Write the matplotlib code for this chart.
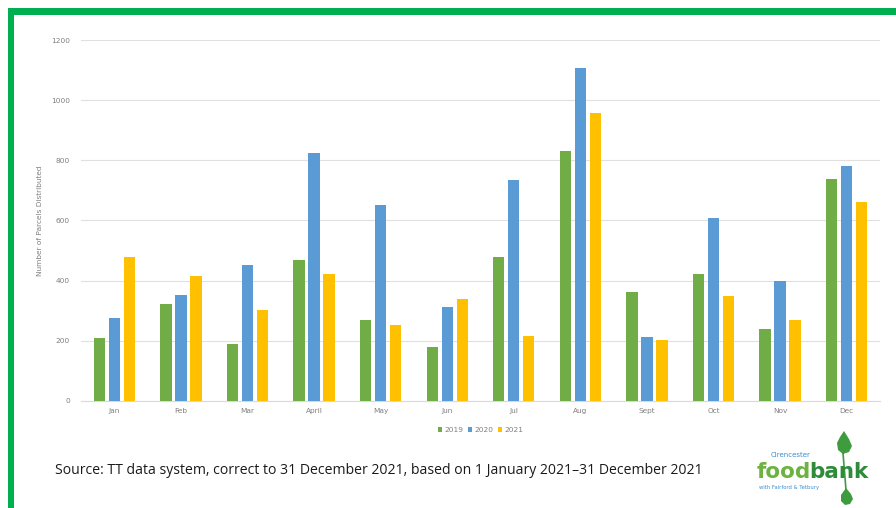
import matplotlib
matplotlib.use("Agg")
import matplotlib.pyplot as plt
import numpy as np
from matplotlib.patches import Rectangle, Polygon

months = ["Jan", "Feb", "Mar", "April", "May", "Jun", "Jul", "Aug", "Sept", "Oct", "Nov", "Dec"]
years = ["2019", "2020", "2021"]
v2019 = [210, 322, 189, 468, 269, 180, 477, 832, 363, 421, 240, 739]
v2020 = [274, 351, 452, 824, 651, 313, 734, 1108, 212, 609, 397, 780]
v2021 = [477, 414, 303, 422, 252, 337, 217, 958, 202, 347, 269, 662]
colors = ["#70AD47", "#5B9BD5", "#FFC000"]
yticks = [0, 200, 400, 600, 800, 1000, 1200]

W, H = 896, 508
fig = plt.figure(figsize=(W / 100, H / 100), dpi=100)
fig.patch.set_facecolor("white")

# green frame
fig.add_artist(Rectangle((8 / W, 1 - 15 / H), 1 - 8 / W, 7 / H, transform=fig.transFigure,
                         color="#00B050", lw=0))
fig.add_artist(Rectangle((8 / W, 0), 6 / W, 1 - 8 / H, transform=fig.transFigure,
                         color="#00B050", lw=0))

ax = fig.add_axes([81 / W, 1 - 400.7 / H, 799 / W, 360.4 / H])
x = np.arange(len(months))
off = 0.225
bw = 0.17
for i, (vals, c, lab) in enumerate(zip([v2019, v2020, v2021], colors, years)):
    ax.bar(x + (i - 1) * off, vals, width=bw, color=c, label=lab, zorder=3)

ax.set_xlim(-0.5, len(months) - 0.5)
ax.set_ylim(0, 1200)
ax.set_yticks(yticks)
ax.set_yticklabels([str(t) for t in yticks])
ax.set_xticks(x)
ax.set_xticklabels(months)
ax.tick_params(axis="both", length=0, labelsize=5.3, colors="#7F7F7F")
ax.tick_params(axis="y", pad=8)
ax.tick_params(axis="x", pad=5)
ax.grid(axis="y", color="#E0E0E0", lw=0.8, zorder=0)
for s in ["top", "right", "left"]:
    ax.spines[s].set_visible(False)
ax.spines["bottom"].set_color("#D9D9D9")
ax.spines["bottom"].set_linewidth(0.8)
ax.set_ylabel("Number of Parcels Distributed", fontsize=5.3, color="#7F7F7F", labelpad=6)

leg = ax.legend(loc="upper center", bbox_to_anchor=(0.5, -0.055), ncol=3, frameon=False,
                fontsize=5.3, handlelength=0.6, handleheight=0.6, handletextpad=0.3,
                columnspacing=0.6)
for t in leg.get_texts():
    t.set_color("#7F7F7F")

fig.text(55 / W, 1 - 470 / H,
         "Source: TT data system, correct to 31 December 2021, based on 1 January 2021\u201331 December 2021",
         fontsize=10.1, family="Open Sans", color="#1a1a1a", va="center", ha="left")

# logo
fig.text(771 / W, 1 - 455 / H, "Cirencester", fontsize=5, color="#3A8FD0", va="center", ha="left")
t1 = fig.text(757 / W, 1 - 478 / H, "food", fontsize=15.5, fontweight="bold", color="#6DB33F",
              va="baseline", ha="left", family="DejaVu Sans")
fig.canvas.draw()
bb = t1.get_window_extent()
fig.text((bb.x1 - 2) / W, 1 - 478 / H, "bank", fontsize=15.5, fontweight="bold", color="#2E8B3A",
         va="baseline", ha="left", family="DejaVu Sans")
fig.text(759 / W, 1 - 487 / H, "with Fairford & Tetbury", fontsize=3.8, color="#3A8FD0",
         va="center", ha="left")
# leaf
leaf = Polygon([(844 / W, 1 - 431 / H), (849 / W, 1 - 439 / H), (852 / W, 1 - 446 / H),
                (849 / W, 1 - 452 / H), (843 / W, 1 - 454 / H), (838 / W, 1 - 450 / H),
                (837 / W, 1 - 443 / H), (840 / W, 1 - 437 / H)],
               closed=True, transform=fig.transFigure, color="#3E9B3E", lw=0)
fig.add_artist(leaf)
drop = Polygon([(846 / W, 1 - 488 / H), (851 / W, 1 - 494 / H), (853 / W, 1 - 499 / H),
                (850 / W, 1 - 504 / H), (845 / W, 1 - 505 / H), (841 / W, 1 - 501 / H),
                (841 / W, 1 - 495 / H)],
               closed=True, transform=fig.transFigure, color="#3E9B3E", lw=0)
fig.add_artist(drop)
fig.add_artist(plt.Line2D([843 / W, 846 / W], [1 - 453 / H, 1 - 490 / H], transform=fig.transFigure,
                          color="#3E9B3E", lw=1.2))

fig.savefig("out.png", dpi=100)
